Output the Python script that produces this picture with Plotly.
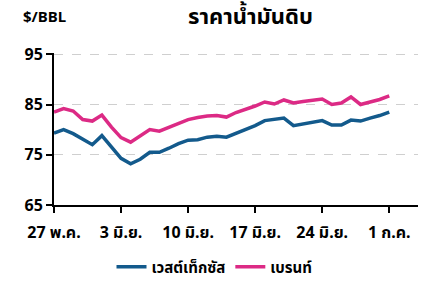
import plotly.graph_objects as go
import pandas as pd

dates = pd.date_range("2024-05-27", "2024-07-01", freq="D")

wti = [79.3, 80.0, 79.2, 78.0, 77.0, 78.8, 76.5, 74.3, 73.2, 74.1, 75.5, 75.5,
       76.3, 77.2, 77.9, 78.0, 78.5, 78.7, 78.5, 79.3, 80.0, 80.8, 81.8, 82.1,
       82.3, 80.8, 81.1, 81.5, 81.8, 80.9, 80.9, 81.9, 81.7, 82.3, 82.8, 83.5]
brent = [83.5, 84.2, 83.7, 82.0, 81.7, 82.9, 80.5, 78.4, 77.5, 78.8, 80.0, 79.7,
         80.5, 81.3, 82.0, 82.4, 82.7, 82.8, 82.5, 83.4, 84.0, 84.7, 85.5, 85.1,
         85.9, 85.3, 85.6, 85.8, 86.1, 85.0, 85.3, 86.5, 85.0, 85.5, 86.0, 86.7]

tick_dates = ["2024-05-27", "2024-06-03", "2024-06-10", "2024-06-17", "2024-06-24", "2024-07-01"]
tick_text = ["27 พ.ค.", "3 มิ.ย.", "10 มิ.ย.", "17 มิ.ย.", "24 มิ.ย.", "1 ก.ค."]
y_ticks = [65, 75, 85, 95]

FONT = "Noto Sans, Noto Sans Thai, Loma, sans-serif"

fig = go.Figure()
fig.add_trace(go.Scatter(x=dates, y=wti, mode="lines", name="<b>เวสต์เท็กซัส</b>",
                         line=dict(color="#135a8c", width=3.5)))
fig.add_trace(go.Scatter(x=dates, y=brent, mode="lines", name="<b>เบรนท์</b>",
                         line=dict(color="#dc2a85", width=3.5)))

fig.update_layout(
    width=429, height=281,
    margin=dict(l=54, r=11, t=53, b=76, autoexpand=False),
    paper_bgcolor="white", plot_bgcolor="white",
    font=dict(family=FONT, color="black", size=14),
    showlegend=True,
    legend=dict(orientation="h", x=0.5, xanchor="center", xref="container",
                y=0.05, yanchor="middle", yref="container",
                font=dict(size=15), itemwidth=30, tracegroupgap=0),
    xaxis=dict(range=["2024-05-27", "2024-07-04"], tickvals=tick_dates,
               ticktext=["<b>%s</b>" % t for t in tick_text],
               showline=True, linecolor="black", linewidth=2,
               ticks="outside", ticklen=6, tickwidth=2, tickcolor="black",
               ticklabelstandoff=6,
               showgrid=False, zeroline=False, tickfont=dict(size=16)),
    yaxis=dict(range=[65, 95.25], tickvals=y_ticks,
               ticktext=["<b>%d</b>" % v for v in y_ticks],
               showline=True, linecolor="black", linewidth=2,
               ticks="outside", ticklen=6, tickwidth=2, tickcolor="black",
               showgrid=True, gridcolor="#cfcfcf", griddash="dash", gridwidth=1,
               zeroline=False, tickfont=dict(size=16)),
)

fig.add_annotation(text="<b>ราคาน้ำมันดิบ</b>", xref="paper", yref="paper",
                   x=0.54, y=1.0, yshift=38, xanchor="center", yanchor="middle",
                   showarrow=False, font=dict(size=22))
fig.add_annotation(text="<b>$/BBL</b>", xref="paper", yref="paper",
                   x=0, xshift=-33, y=1.0, yshift=37, xanchor="left", yanchor="middle",
                   showarrow=False, font=dict(size=15))

fig.write_html("out.html")
